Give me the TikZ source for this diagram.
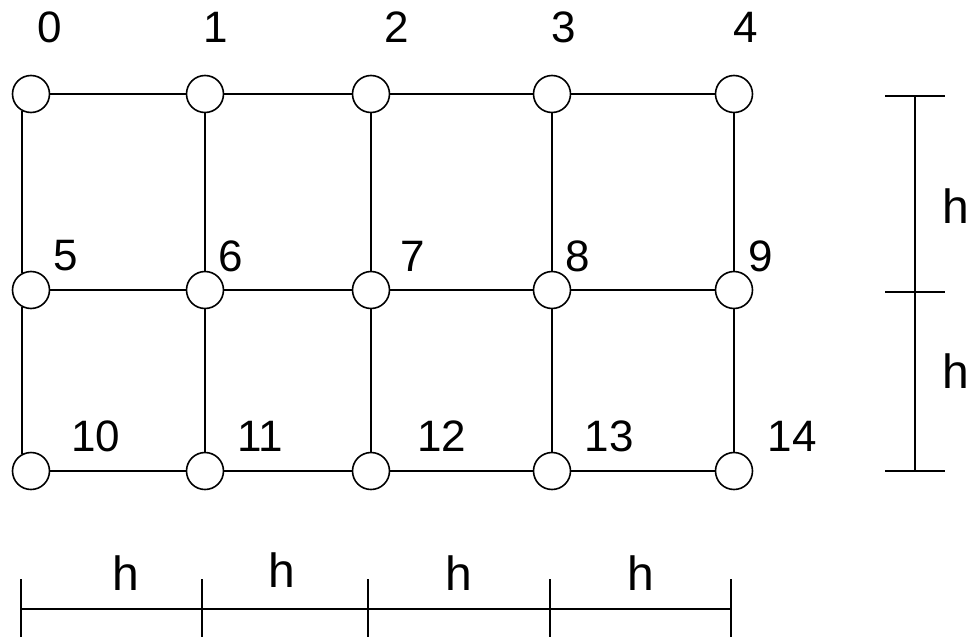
\documentclass[tikz,border=0pt]{standalone}
\usepackage{fontspec}
\setmainfont{Liberation Sans}
\begin{document}
\begin{tikzpicture}[x=1pt,y=-1pt,
  vtx/.style={circle,draw,line width=1.6pt,minimum size=37pt,inner sep=0pt,fill=white},
  edge/.style={line width=1.6pt},
  dim/.style={line width=1.6pt},
  num/.style={inner sep=0pt,font=\fontsize{44}{44}\selectfont},
  hlab/.style={inner sep=0pt,font=\fontsize{48}{48}\selectfont}]
\useasboundingbox (0,0) rectangle (969,637);
% vertices
\node[vtx] (n0) at (31,94) {};
\node[vtx] (n1) at (205,94) {};
\node[vtx] (n2) at (371,94) {};
\node[vtx] (n3) at (552,94) {};
\node[vtx] (n4) at (734,94) {};
\node[vtx] (n5) at (31,290) {};
\node[vtx] (n6) at (205,290) {};
\node[vtx] (n7) at (371,290) {};
\node[vtx] (n8) at (552,290) {};
\node[vtx] (n9) at (734,290) {};
\node[vtx] (n10) at (31,471) {};
\node[vtx] (n11) at (205,471) {};
\node[vtx] (n12) at (371,471) {};
\node[vtx] (n13) at (552,471) {};
\node[vtx] (n14) at (734,471) {};
% horizontal edges
\draw[edge] (n0.east) -- (n1.west);
\draw[edge] (n1.east) -- (n2.west);
\draw[edge] (n2.east) -- (n3.west);
\draw[edge] (n3.east) -- (n4.west);
\draw[edge] (n5.east) -- (n6.west);
\draw[edge] (n6.east) -- (n7.west);
\draw[edge] (n7.east) -- (n8.west);
\draw[edge] (n8.east) -- (n9.west);
\draw[edge] (n10.east) -- (n11.west);
\draw[edge] (n11.east) -- (n12.west);
\draw[edge] (n12.east) -- (n13.west);
\draw[edge] (n13.east) -- (n14.west);
% vertical edges
\draw[edge] (n0.243) -- (n5.117);
\draw[edge] (n5.243) -- (n10.117);
\draw[edge] (n1.south) -- (n6.north);
\draw[edge] (n6.south) -- (n11.north);
\draw[edge] (n2.south) -- (n7.north);
\draw[edge] (n7.south) -- (n12.north);
\draw[edge] (n3.south) -- (n8.north);
\draw[edge] (n8.south) -- (n13.north);
\draw[edge] (n4.south) -- (n9.north);
\draw[edge] (n9.south) -- (n14.north);
% vertex labels
\node[num] (l0) at (50,27.5) {0};
\node[num] (l1) at (216,27.5) {1};
\node[num] (l2) at (397,27.5) {2};
\node[num] (l3) at (564,27.5) {3};
\node[num] (l4) at (746,27.5) {4};
\node[num] (l5) at (66,256) {5};
\node[num] (l6) at (231,256) {6};
\node[num] (l7) at (413,256) {7};
\node[num] (l8) at (578,256) {8};
\node[num] (l9) at (761,256) {9};
\node[num] (l10) at (96,436) {10};
\node[num] (l11) at (260,436) {11};
\node[num] (l12) at (442,436) {12};
\node[num] (l13) at (609,436) {13};
\node[num] (l14) at (792,436) {14};
% right dimension
\coordinate (r0) at (915,96);
\coordinate (r1) at (915,292);
\coordinate (r2) at (915,471);
\draw[dim] (r0) -- (r2);
\draw[dim] ([xshift=-30pt]r0) -- ([xshift=30pt]r0);
\draw[dim] ([xshift=-30pt]r1) -- ([xshift=30pt]r1);
\draw[dim] ([xshift=-30pt]r2) -- ([xshift=30pt]r2);
\node[hlab] (hr1) at (956,206) {h};
\node[hlab] (hr2) at (956,371) {h};
% bottom dimension
\coordinate (b0) at (21,609);
\coordinate (b1) at (202,609);
\coordinate (b2) at (368,609);
\coordinate (b3) at (550,609);
\coordinate (b4) at (731,609);
\draw[dim] (b0) -- (b4);
\foreach \c in {b0,b1,b2,b3,b4} {
  \draw[dim] ([yshift=-31pt]\c) -- ([yshift=30pt]\c);
}
\node[hlab] (hb1) at (126,573) {h};
\node[hlab] (hb2) at (282,570) {h};
\node[hlab] (hb3) at (459,573) {h};
\node[hlab] (hb4) at (641,573) {h};
\end{tikzpicture}
\end{document}
